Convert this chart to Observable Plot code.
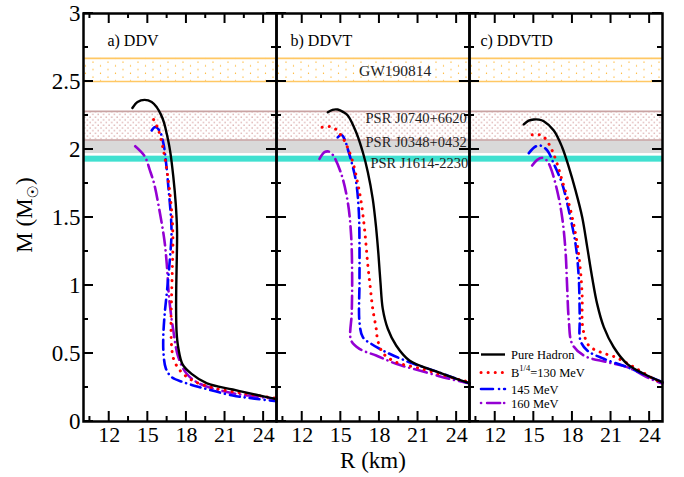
<!DOCTYPE html>
<html><head><meta charset="utf-8">
<script src="https://cdn.jsdelivr.net/npm/d3@7"></script>
<script src="https://cdn.jsdelivr.net/npm/@observablehq/plot@0.6"></script>
<style>body{margin:0;background:#fff} svg{display:block}</style>
</head><body><div id="chart"></div>
<script>
// ---------- data ----------
const panels = ["a", "b", "c"];
const panelTitles = ["a) DDV", "b) DDVT", "c) DDVTD"];
const panelTitleR = [11.86, 11.09, 10.85];
const panelTitleM = [2.80, 2.80, 2.80];

const seriesKeys = ["hadron", "b130", "b145", "b160"];
const seriesColors = ["#000000", "#ff0000", "#0000ff", "#9400d3"];

const xDomain = [10, 25];
const yDomain = [0, 3];
const xMajor = [12, 15, 18, 21, 24];
const xMinor = [10.5, 13.5, 16.5, 19.5, 22.5];
const yMajor = [0, 0.5, 1, 1.5, 2, 2.5, 3];
const yMinor = [0.25, 0.75, 1.25, 1.75, 2.25, 2.75];

// observational bands
const bandNames = ["GW190814", "PSR J0740+6620", "PSR J0348+0432", "PSR J1614-2230"];
const bandLow  = [2.50, 2.07, 1.97, 1.907];
const bandHigh = [2.67, 2.28, 2.07, 1.951];
const bandLabelR = [19.22, 16.92, 16.92, 17.30];
const bandLabelM = [2.574, 2.226, 2.054, 1.895];

// (R [km], M [Msun]) pairs
// a) DDV
const ddvHadron = [[13.8,2.305],[14.2,2.35],[14.75,2.365],[15.3,2.35],[15.7,2.31],[16.0,2.26],[16.25,2.2],[16.47,2.115],[16.73,1.99],[16.98,1.8],[17.17,1.6],[17.27,1.4],[17.25,1.2],[17.21,1.0],[17.2,0.8],[17.24,0.65],[17.37,0.54],[17.7,0.42],[18.4,0.35],[19.6,0.28],[21.6,0.235],[23.5,0.195],[25,0.165]];
const ddvB130 = [[15.45,2.22],[15.8,2.15],[16.2,2.0],[16.55,1.8],[16.8,1.6],[16.92,1.45],[16.95,1.3],[16.9,1.1],[16.84,0.9],[16.8,0.7],[16.85,0.55],[17.0,0.46],[17.5,0.375],[18.5,0.30],[20.0,0.25],[21.6,0.22],[23.2,0.196],[25,0.17]];
const ddvB145 = [[15.3,2.14],[15.57,2.165],[15.9,2.14],[16.2,2.05],[16.42,1.9],[16.62,1.7],[16.8,1.5],[16.84,1.38],[16.72,1.2],[16.5,0.97],[16.3,0.78],[16.2,0.62],[16.22,0.5],[16.4,0.39],[16.86,0.326],[17.76,0.289],[19.05,0.252],[21.6,0.191],[23.3,0.168],[25,0.149]];
const ddvB160 = [[14.02,2.024],[14.4,1.99],[14.8,1.943],[15.15,1.85],[15.49,1.748],[15.95,1.527],[16.29,1.331],[16.47,1.16],[16.65,0.914],[16.98,0.669],[17.37,0.473],[18.02,0.351],[19.05,0.277],[21.6,0.208],[23.3,0.185],[25,0.165]];
// b) DDVT
const ddvtHadron = [[13.99,2.274],[14.35,2.292],[14.76,2.294],[15.2,2.275],[15.54,2.25],[16.19,2.127],[16.71,1.98],[17.1,1.833],[17.48,1.637],[17.75,1.417],[17.93,1.22],[18.08,1.024],[18.26,0.828],[18.65,0.682],[19.3,0.559],[20.33,0.449],[22.41,0.368],[24.74,0.289],[25,0.282]];
const ddvtB130 = [[13.55,2.164],[13.95,2.168],[14.38,2.164],[15.03,2.103],[15.5,2.02],[15.93,1.907],[16.32,1.748],[16.58,1.613],[16.84,1.417],[17.1,1.147],[17.3,0.976],[17.48,0.828],[17.75,0.682],[17.87,0.596],[18.3,0.5],[19.3,0.436],[21.11,0.392],[23.96,0.314],[25,0.29]];
const ddvtB145 = [[14.76,2.09],[15.03,2.108],[15.28,2.078],[15.55,2.0],[15.8,1.919],[16.19,1.76],[16.4,1.539],[16.45,1.294],[16.45,1.024],[16.45,0.73],[16.71,0.62],[17.36,0.571],[18.52,0.51],[20.33,0.436],[22.41,0.368],[24.74,0.289],[25,0.283]];
const ddvtB160 = [[13.34,1.931],[13.73,1.98],[14.05,1.985],[14.37,1.961],[15.03,1.821],[15.54,1.613],[15.8,1.368],[15.88,1.049],[15.85,0.8],[15.8,0.596],[16.45,0.534],[17.75,0.485],[19.3,0.424],[21.11,0.375],[23.44,0.314],[25,0.28]];
// c) DDVTD
const ddvtdHadron = [[14.22,2.184],[14.6,2.212],[15.0,2.221],[15.4,2.22],[15.77,2.208],[16.55,2.14],[17.2,2.017],[17.72,1.87],[18.24,1.699],[18.76,1.502],[19.15,1.282],[19.53,1.061],[19.92,0.865],[20.44,0.694],[21.21,0.546],[22.25,0.424],[23.54,0.351],[25,0.288]];
const ddvtdB130 = [[14.87,2.108],[15.25,2.11],[15.65,2.103],[16.16,2.042],[16.5,1.976],[16.81,1.895],[17.2,1.772],[17.59,1.649],[17.98,1.502],[18.37,1.307],[18.62,1.11],[18.76,0.914],[18.8,0.694],[19.27,0.559],[20.18,0.51],[21.34,0.473],[22.77,0.40],[24.58,0.301],[25,0.29]];
const ddvtdB145 = [[14.61,1.973],[15.13,2.022],[15.52,2.029],[16.04,1.993],[16.55,1.895],[17.2,1.748],[17.72,1.551],[18.24,1.307],[18.49,1.061],[18.57,0.767],[18.62,0.596],[19.15,0.522],[20.44,0.461],[22.25,0.40],[24.06,0.326],[25,0.29]];
const ddvtdB160 = [[14.87,1.882],[15.26,1.924],[15.65,1.939],[16.0,1.92],[16.29,1.87],[16.81,1.699],[17.2,1.502],[17.46,1.257],[17.59,0.988],[17.72,0.743],[17.98,0.571],[18.88,0.485],[20.7,0.436],[22.25,0.40],[24.06,0.314],[25,0.28]];

const curves = {
  a: [ddvHadron, ddvB130, ddvB145, ddvB160],
  b: [ddvtHadron, ddvtB130, ddvtB145, ddvtB160],
  c: [ddvtdHadron, ddvtdB130, ddvtdB145, ddvtdB160]
};

// ---------- tables ----------
const rows = [];
for (const p of panels) curves[p].forEach((pts, si) => {
  pts.forEach(([R, M]) => rows.push({panel: p, series: seriesKeys[si], R, M}));
});
const bySeries = k => rows.filter(d => d.series === k);

const bands = bandNames.map((name, i) => ({name, lo: bandLow[i], hi: bandHigh[i], R: bandLabelR[i], M: bandLabelM[i], panel: "b"}));
const bandFill = ["url(#gwDots)", "url(#j0740Dots)", "#d9d9d9", "#40e0d0"];
const bandOrder = [2, 3, 0, 1];
const bandRects = bandOrder.map(i => ({...bands[i], fill: bandFill[i]}));
const edgeRows = [
  {M: bandLow[0], c: "#ffc864"}, {M: bandHigh[0], c: "#ffc864"},
  {M: bandLow[1], c: "#c9a3a3"}, {M: bandHigh[1], c: "#c9a3a3"}
];
const titles = panels.map((p, i) => ({panel: p, t: panelTitles[i], R: panelTitleR[i], M: panelTitleM[i]}));

const serif = "'Liberation Serif', serif";
const fmt = d => String(d);

const W = 684, H = 477, mL = 83, mR = 22, mT = 13, mB = 56;
const facetW = (W - mL - mR) / 3;

const svg = Plot.plot({
  width: W, height: H,
  marginLeft: mL, marginRight: mR, marginTop: mT, marginBottom: mB,
  x: {domain: xDomain},
  y: {domain: yDomain},
  fx: {domain: panels, padding: 0, axis: null},
  style: {fontFamily: serif, background: "white", color: "black"},
  marks: [
    Plot.rect(bandRects, {y1: "lo", y2: "hi", fill: "fill"}),
    Plot.ruleY(edgeRows, {y: "M", stroke: "c", strokeWidth: 1.6}),
    Plot.text(bands.slice(0, 1), {x: "R", y: "M", fx: "panel", text: "name", textAnchor: "middle", fontSize: 15.5, fill: "#222"}),
    Plot.text(bands.slice(1), {x: "R", y: "M", fx: "panel", text: "name", textAnchor: "start", fontSize: 14.5, fill: "#222"}),
    Plot.line(bySeries("b160"), {x: "R", y: "M", fx: "panel", stroke: seriesColors[3], strokeWidth: 2.6, strokeDasharray: "13,5,0.1,5", strokeLinecap: "round", curve: "catmull-rom"}),
    Plot.line(bySeries("b145"), {x: "R", y: "M", fx: "panel", stroke: seriesColors[2], strokeWidth: 2.6, strokeDasharray: "10,5,0.1,5", strokeLinecap: "round", curve: "catmull-rom"}),
    Plot.line(bySeries("b130"), {x: "R", y: "M", fx: "panel", stroke: seriesColors[1], strokeWidth: 3, strokeDasharray: "0.1,7", strokeLinecap: "round", curve: "catmull-rom"}),
    Plot.line(bySeries("hadron"), {x: "R", y: "M", fx: "panel", stroke: seriesColors[0], strokeWidth: 2.4, curve: "catmull-rom"}),
    Plot.text(titles, {x: "R", y: "M", fx: "panel", text: "t", textAnchor: "start", fontSize: 16}),
    Plot.axisX({anchor: "bottom", ticks: xMajor, tickSize: 0, tickPadding: 5, tickFormat: fmt, label: null, fontSize: 22}),
    Plot.axisY({anchor: "left", ticks: yMajor, tickSize: 0, tickPadding: 3, tickFormat: fmt, label: null, fontSize: 23}),
    Plot.frame({stroke: "black", strokeWidth: 2.5})
  ]
});

document.getElementById("chart").appendChild(svg);

// ---------- patterns ----------
const s = d3.select(svg);
const defs = s.insert("defs", ":first-child");
const gw = defs.append("pattern").attr("id", "gwDots").attr("patternUnits", "userSpaceOnUse").attr("width", 15).attr("height", 7.5);
gw.append("rect").attr("width", 15).attr("height", 7.5).attr("fill", "white");
gw.append("circle").attr("cx", 3).attr("cy", 2).attr("r", 0.65).attr("fill", "#ffa500");
gw.append("circle").attr("cx", 10.5).attr("cy", 5.75).attr("r", 0.65).attr("fill", "#ffa500");
const jp = defs.append("pattern").attr("id", "j0740Dots").attr("patternUnits", "userSpaceOnUse").attr("width", 5.4).attr("height", 5.4);
jp.append("rect").attr("width", 5.4).attr("height", 5.4).attr("fill", "white");
jp.append("circle").attr("cx", 1).attr("cy", 1).attr("r", 0.55).attr("fill", "#b04848");
jp.append("circle").attr("cx", 3.7).attr("cy", 3.7).attr("r", 0.55).attr("fill", "#b04848");

// ---------- inward ticks, positioned with Plot's own scales ----------
let xs = null, ys = null, fxs = null;
try { xs = svg.scale("x"); ys = svg.scale("y"); fxs = svg.scale("fx"); } catch (e) {}
const ok = v => typeof v === "number" && isFinite(v);
const bandStart = (p, i) => { const v = fxs && fxs.apply ? fxs.apply(p) : NaN; return ok(v) ? v : mL + i * facetW; };
const bandW = (fxs && ok(fxs.bandwidth)) ? fxs.bandwidth : facetW;
const xFrac = v => {
  if (xs && xs.apply && xs.range) {
    const r = (xs.apply(v) - xs.range[0]) / (xs.range[1] - xs.range[0]);
    if (ok(r)) return r;
  }
  return (v - xDomain[0]) / (xDomain[1] - xDomain[0]);
};
const yPix = v => {
  const r = ys && ys.apply ? ys.apply(v) : NaN;
  return ok(r) ? r : H - mB - (v - yDomain[0]) / (yDomain[1] - yDomain[0]) * (H - mT - mB);
};
const tg = s.append("g").attr("stroke", "black").attr("stroke-width", 2).attr("fill", "none");
const seg = (x1, y1, x2, y2) => tg.append("line").attr("x1", x1).attr("y1", y1).attr("x2", x2).attr("y2", y2).attr("stroke", "black").attr("stroke-width", 2);
panels.forEach((p, i) => {
  const x0 = bandStart(p, i), x1 = x0 + bandW;
  const yb = yPix(yDomain[0]), yt = yPix(yDomain[1]);
  const addX = (vals, len) => vals.forEach(v => {
    const px = x0 + xFrac(v) * bandW;
    seg(px, yb, px, yb - len);
    seg(px, yt, px, yt + len);
  });
  const addY = (vals, len) => vals.forEach(v => {
    const py = yPix(v);
    seg(x0, py, x0 + len, py);
    seg(x1, py, x1 - len, py);
  });
  addX(xMajor, 10); addX(xMinor, 5);
  addY(yMajor, 10); addY(yMinor, 5);
});

// ---------- axis titles ----------
const yl = s.append("text").attr("transform", "translate(32,215) rotate(-90)")
  .attr("text-anchor", "middle").attr("font-family", serif).attr("font-size", 23).attr("fill", "black");
yl.append("tspan").text("M (M");
yl.append("tspan").attr("font-size", 15).attr("dy", 6).attr("font-family", "'DejaVu Sans', sans-serif").text("\u2609");
yl.append("tspan").attr("dy", -6).text(")");

s.append("text").attr("x", 373).attr("y", 468).attr("text-anchor", "middle")
  .attr("font-family", serif).attr("font-size", 23).attr("fill", "black").text("R (km)");

// ---------- legend ----------
const legendY = [354.5, 372.5, 389, 403];
const legendDash = [null, "0.1,7", "12,6,0.1,5", "0.1,6,13,4"];
const legendWidth = [2.4, 3, 2.6, 2.6];
const legendText = ["Pure Hadron", "", "145 MeV", "160 MeV"];
const lg = s.append("g").attr("font-family", serif).attr("font-size", 12.5).attr("text-anchor", "start");
legendY.forEach((y, i) => {
  lg.append("line").attr("x1", 481).attr("x2", 505).attr("y1", y).attr("y2", y)
    .attr("stroke", seriesColors[i]).attr("stroke-width", legendWidth[i])
    .attr("stroke-dasharray", legendDash[i]).attr("stroke-linecap", i ? "round" : "butt");
  const t = lg.append("text").attr("x", 511).attr("y", y + 4.5).attr("fill", "black").attr("text-anchor", "start");
  if (i === 1) {
    t.append("tspan").text("B");
    t.append("tspan").attr("font-size", 8.5).attr("dy", -6).text("1/4");
    t.append("tspan").attr("dy", 6).text("=130 MeV");
  } else {
    t.text(legendText[i]);
  }
});
</script>
</body></html>
